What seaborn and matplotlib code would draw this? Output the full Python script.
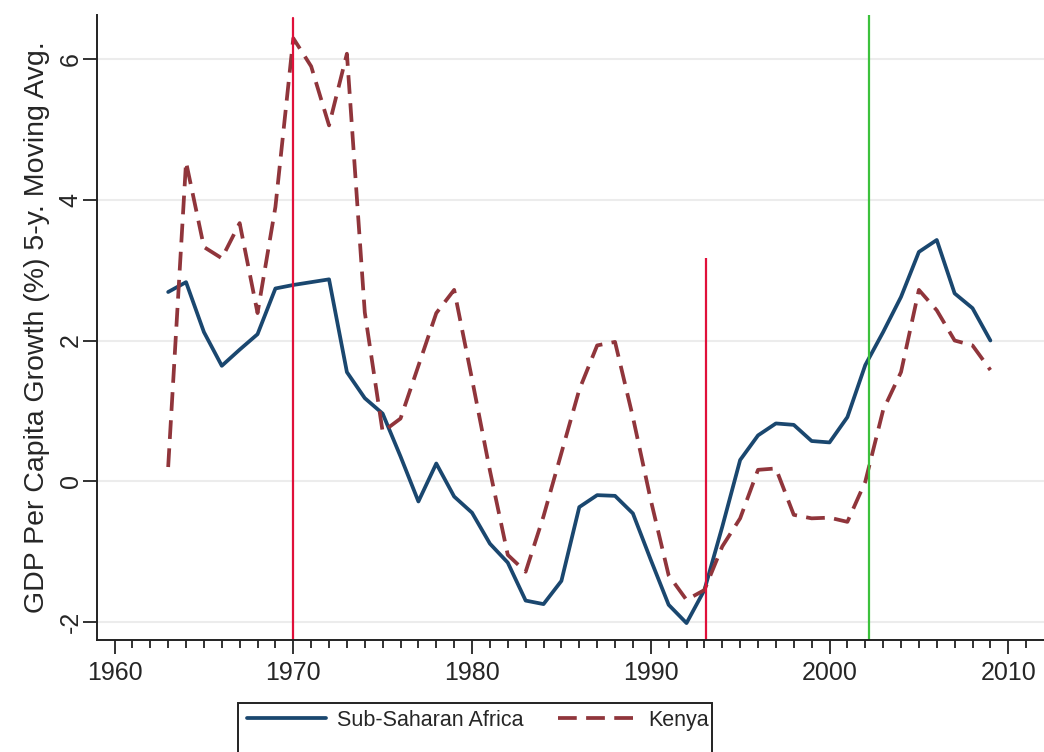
import numpy as np
import pandas as pd
import matplotlib
matplotlib.use("Agg")
import matplotlib.pyplot as plt
from matplotlib.lines import Line2D
from matplotlib.patches import Rectangle
import seaborn as sns

# dados (media movel de 5 anos)
anos = list(range(1963, 2010))
ssa = [2.69, 2.83, 2.12, 1.64, 1.87, 2.09, 2.74, 2.79, 2.83, 2.87,
       1.55, 1.18, 0.96, 0.35, -0.29, 0.25, -0.22, -0.45, -0.89, -1.16,
       -1.70, -1.75, -1.42, -0.37, -0.20, -0.21, -0.46, -1.12, -1.76, -2.02,
       -1.55, -0.65, 0.30, 0.65, 0.82, 0.80, 0.57, 0.55, 0.91, 1.65,
       2.12, 2.62, 3.26, 3.43, 2.67, 2.46, 2.00]
kenya = [0.20, 4.54, 3.33, 3.17, 3.67, 2.39, 3.90, 6.30, 5.90, 5.06,
         6.08, 2.40, 0.70, 0.89, 1.64, 2.39, 2.72, 1.45, 0.15, -1.05,
         -1.29, -0.50, 0.40, 1.30, 1.93, 1.98, 0.91, -0.27, -1.34, -1.69,
         -1.55, -0.93, -0.53, 0.16, 0.18, -0.48, -0.53, -0.52, -0.58, -0.01,
         1.01, 1.55, 2.72, 2.43, 2.00, 1.93, 1.58]
series = ["Sub-Saharan Africa", "Kenya"]

# linhas verticais (anos de referencia)
linhas_vermelhas = [1970, 1993.1]
topo_vermelhas = [6.62, 3.17]
linha_verde = 2002.2

dados = pd.DataFrame({
    "ano": anos * 2,
    "valor": ssa + kenya,
    "serie": [series[0]] * len(anos) + [series[1]] * len(anos),
})

sns.set_style("ticks")
plt.rcParams["font.family"] = ["Liberation Sans", "DejaVu Sans"]

fig = plt.figure(figsize=(10.44, 7.52), dpi=100)
ax = fig.add_axes([0.0926, 0.149, 0.9074, 0.831])

cores = {"Sub-Saharan Africa": "#1a476f", "Kenya": "#90353b"}
traco = (5, 2.5)
sns.lineplot(data=dados, x="ano", y="valor", hue="serie", style="serie",
             palette=cores, dashes={"Sub-Saharan Africa": "", "Kenya": traco},
             linewidth=2.7, legend=False, ax=ax)

ax.axvline(linhas_vermelhas[0], color="#e0103a", lw=1.6, ymax=0.995)
ax.vlines(linhas_vermelhas[1], -2.26, topo_vermelhas[1], color="#e0103a", lw=1.6)
ax.axvline(linha_verde, color="#3cc13c", lw=1.6, ymax=1.0)

ax.set_xlim(1959.0, 2012.0)
ax.set_ylim(-2.26, 6.63)
ax.set_xticks([1960, 1970, 1980, 1990, 2000, 2010])
ax.set_xticks(range(1960, 2012), minor=True)
ax.set_yticks([-2, 0, 2, 4, 6])
ax.set_yticklabels(["-2", "0", "2", "4", "6"], rotation=90, va="center")
ax.grid(axis="y", color="#ececec", lw=1.5)
ax.set_axisbelow(True)

ax.tick_params(axis="both", which="major", length=10, width=1.3, labelsize=18, color="#222222")
ax.tick_params(axis="x", which="minor", length=6, width=1.3, color="#222222")
ax.tick_params(axis="x", pad=5)
ax.tick_params(axis="y", pad=0)
for lado in ["left", "bottom"]:
    ax.spines[lado].set_linewidth(1.4)
    ax.spines[lado].set_color("#222222")
sns.despine(ax=ax)

ax.set_xlabel("")
ax.set_ylabel("GDP Per Capita Growth (%) 5-y. Moving Avg.", fontsize=20.5, labelpad=6)

# legenda embaixo, caixa cortada pela borda da imagem
handles = [Line2D([], [], color=cores[series[0]], lw=2.7),
           Line2D([], [], color=cores[series[1]], lw=2.7, dashes=traco)]
leg = fig.legend(handles, series, loc="center left", bbox_to_anchor=(0.2176, 0.0425),
                 ncol=2, frameon=False, fontsize=15.5, handlelength=3.7,
                 handletextpad=0.5, columnspacing=1.6)
fig.patches.append(Rectangle((238 / 1044, -0.05), (712 - 238) / 1044, 0.05 + 49.3 / 752,
                             transform=fig.transFigure, fill=False, ec="#222222", lw=1.4))

fig.savefig("out.png", dpi=100)
